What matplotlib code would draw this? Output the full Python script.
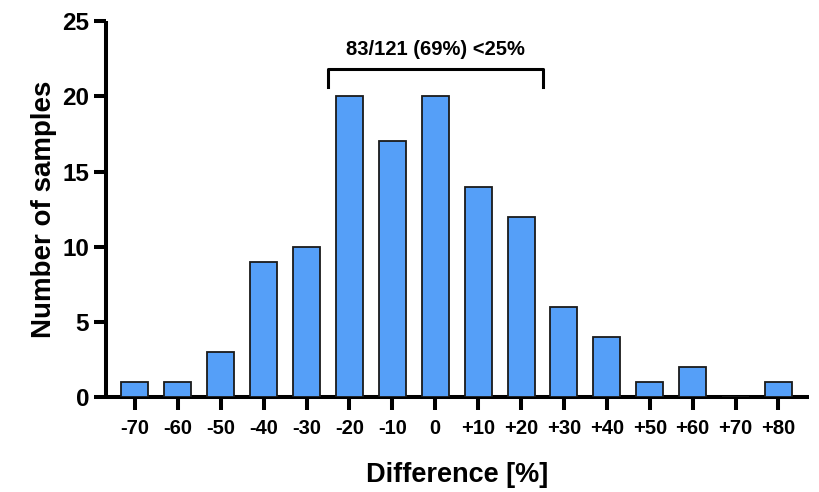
import matplotlib.pyplot as plt
import numpy as np

# Data
categories = ["-70", "-60", "-50", "-40", "-30", "-20", "-10", "0",
              "+10", "+20", "+30", "+40", "+50", "+60", "+70", "+80"]
counts = [1, 1, 3, 9, 10, 20, 17, 20, 14, 12, 6, 4, 1, 2, 0, 1]
y_ticks = [0, 5, 10, 15, 20, 25]
bracket_text = "83/121 (69%) <25%"

plt.rcParams['font.family'] = ['Liberation Sans', 'DejaVu Sans']
plt.rcParams['font.weight'] = 'bold'

fig = plt.figure(figsize=(8.2, 4.92), dpi=100)
ax = fig.add_axes([0.129, 0.193, 0.857, 0.764])

x = np.arange(len(categories))
ax.bar(x, counts, width=0.63, color="#559ff8", edgecolor="#1a1a1a", linewidth=1.3, zorder=3)

ax.set_xlim(-0.68, 15.7)
ax.set_ylim(0, 25)
ax.set_xticks(x)
ax.set_xticklabels(categories, fontsize=14.5, fontweight='bold')
ax.set_yticks(y_ticks)
ax.set_yticklabels([str(t) for t in y_ticks], fontsize=17.5, fontweight='bold')

for side in ["top", "right"]:
    ax.spines[side].set_visible(False)
for side in ["left", "bottom"]:
    ax.spines[side].set_linewidth(2.9)
    ax.spines[side].set_capstyle('butt')

ax.tick_params(axis='y', length=9, width=2.9, pad=3)
ax.tick_params(axis='x', length=9, width=2.9, pad=7)

ax.set_ylabel("Number of samples", fontsize=20, fontweight='bold', labelpad=4)
ax.set_xlabel("Difference [%]", fontsize=19.5, fontweight='bold', labelpad=17)

# Bracket spanning -25 .. +25
bx0, bx1 = 4.5, 9.5
ax.plot([bx0, bx0, bx1, bx1], [20.6, 21.8, 21.8, 20.6], color="black",
        linewidth=2.2, clip_on=False, zorder=4)
ax.text((bx0 + bx1) / 2, 22.5, bracket_text, ha='center', va='bottom',
        fontsize=14.5, fontweight='bold')

fig.savefig("out.png", dpi=100)
